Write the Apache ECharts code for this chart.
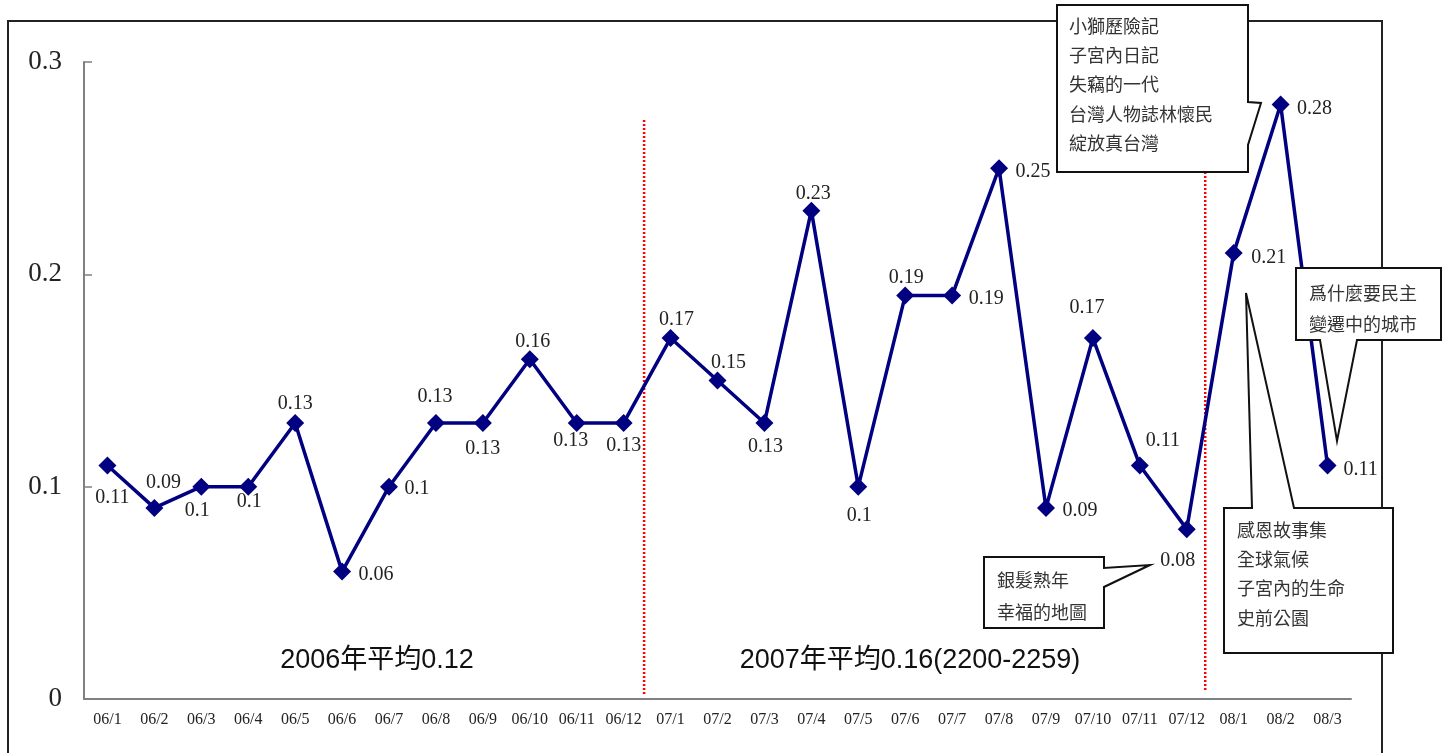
<!DOCTYPE html>
<html>
<head>
<meta charset="utf-8">
<script src="https://cdn.jsdelivr.net/npm/echarts@6/dist/echarts.min.js"></script>
<style>
html,body{margin:0;padding:0;background:#fff;}
#main{width:1448px;height:753px;}
</style>
</head>
<body>
<div id="main"></div>
<script>
const categories = ['06/1','06/2','06/3','06/4','06/5','06/6','06/7','06/8','06/9','06/10','06/11','06/12',
  '07/1','07/2','07/3','07/4','07/5','07/6','07/7','07/8','07/9','07/10','07/11','07/12',
  '08/1','08/2','08/3'];
const values = [0.11,0.09,0.1,0.1,0.13,0.06,0.1,0.13,0.13,0.16,0.13,0.13,
  0.17,0.15,0.13,0.23,0.1,0.19,0.19,0.25,0.09,0.17,0.11,0.08,
  0.21,0.28,0.11];
const yTicks = [0, 0.1, 0.2, 0.3];
const avgTexts = ['2006年平均0.12', '2007年平均0.16(2200-2259)'];
const callout1 = ['小獅歷險記','子宮內日記','失竊的一代','台灣人物誌林懷民','綻放真台灣'];
const callout2 = ['爲什麼要民主','變遷中的城市'];
const callout3 = ['感恩故事集','全球氣候','子宮內的生命','史前公園'];
const callout4 = ['銀髮熟年','幸福的地圖'];

// label placement (offset of label centre from the point), layout only
const labelOffsets = [[5,32],[9,-25],[-4,24],[1,15],[0,-19],[34,3],[28,2],[-1,-26],[0,26],[3,-18],[-6,18],[0,23],
  [6,-18],[11,-18],[1,24],[2,-17],[1,29],[1,-18],[34,3],[34,4],[34,3],[-6,-30],[23,-25],[-9,32],
  [35,5],[34,4],[33,4]];

const chart = echarts.init(document.getElementById('main'));
const numFont = '"Liberation Serif", "Times New Roman", serif';
const cjkFont = '"Noto Sans CJK TC", "Noto Sans CJK SC", sans-serif';

const seriesData = values.map((v, i) => ({
  value: v,
  label: { offset: labelOffsets[i] }
}));

chart.setOption({
  animation: false,
  grid: { left: 84, right: 97, top: 62, bottom: 54, containLabel: false },
  xAxis: {
    type: 'category',
    data: categories,
    boundaryGap: true,
    axisLine: { lineStyle: { color: '#808080', width: 2 } },
    axisTick: { inside: true, length: 7, alignWithLabel: false, lineStyle: { color: '#808080', width: 1.5 } },
    axisLabel: { fontFamily: numFont, fontSize: 16, color: '#222', margin: 13, interval: 0 },
    splitLine: { show: false }
  },
  yAxis: {
    type: 'value',
    min: yTicks[0],
    max: yTicks[yTicks.length - 1],
    interval: 0.1,
    axisLine: { show: true, lineStyle: { color: '#808080', width: 2 } },
    axisTick: { show: true, inside: true, length: 8, lineStyle: { color: '#808080', width: 1.5 } },
    axisLabel: { fontFamily: numFont, fontSize: 27, color: '#222', margin: 22,
      formatter: v => String(Math.round(v * 10) / 10) },
    splitLine: { show: false }
  },
  series: [{
    type: 'line',
    data: seriesData,
    symbol: 'diamond',
    symbolSize: 18,
    lineStyle: { color: '#000080', width: 3.5 },
    itemStyle: { color: '#000080' },
    z: 3,
    label: {
      show: true,
      position: 'inside',
      align: 'center',
      verticalAlign: 'middle',
      fontFamily: numFont,
      fontSize: 20,
      color: '#222',
      formatter: p => String(p.value)
    }
  }]
});

function calloutGroup(points, lines, tx, ty0, lh) {
  const children = [{
    type: 'polygon',
    shape: { points: points },
    style: { fill: '#fff', stroke: '#111', lineWidth: 2 },
    z: 10
  }];
  lines.forEach((t, k) => {
    children.push({
      type: 'text',
      x: tx, y: ty0 + k * lh,
      style: { text: t, fontFamily: cjkFont, fontSize: 18, fill: '#333', align: 'left', verticalAlign: 'middle' },
      z: 11
    });
  });
  return children;
}

const xA = chart.convertToPixel({ xAxisIndex: 0 }, categories[11]);
const xB = chart.convertToPixel({ xAxisIndex: 0 }, categories[12]);
const xC = chart.convertToPixel({ xAxisIndex: 0 }, categories[23]);
const xD = chart.convertToPixel({ xAxisIndex: 0 }, categories[24]);
const sep1 = (xA + xB) / 2 - 3;
const sep2 = (xC + xD) / 2 - 5;

const g = [];
g.push({ type: 'rect', shape: { x: 8, y: 21, width: 1374, height: 760 },
  style: { fill: 'none', stroke: '#222', lineWidth: 2 }, z: 0, silent: true });
g.push({ type: 'line', shape: { x1: sep1, y1: 120, x2: sep1, y2: 696 },
  style: { stroke: '#ff0000', lineWidth: 2.5, lineDash: [2, 2] }, z: 2 });
g.push({ type: 'line', shape: { x1: sep2, y1: 120, x2: sep2, y2: 692 },
  style: { stroke: '#ff0000', lineWidth: 2.5, lineDash: [2, 2] }, z: 2 });
g.push({ type: 'text', x: 377, y: 661,
  style: { text: avgTexts[0], fontFamily: '"Liberation Sans", Arial, "Noto Sans CJK TC", sans-serif', fontSize: 27, fill: '#111', align: 'center', verticalAlign: 'middle' }, z: 5 });
g.push({ type: 'text', x: 910, y: 661,
  style: { text: avgTexts[1], fontFamily: '"Liberation Sans", Arial, "Noto Sans CJK TC", sans-serif', fontSize: 27, fill: '#111', align: 'center', verticalAlign: 'middle' }, z: 5 });

calloutGroup([[1057,5],[1248,5],[1248,102],[1261,103],[1248,145],[1248,172],[1057,172]], callout1, 1069, 26, 29.3).forEach(c => g.push(c));
calloutGroup([[1296,268],[1441,268],[1441,340],[1357,340],[1337,441],[1320,340],[1296,340]], callout2, 1309, 293, 31).forEach(c => g.push(c));
calloutGroup([[1224,508],[1252,508],[1246,293],[1294,508],[1393,508],[1393,653],[1224,653]], callout3, 1237, 530, 29.3).forEach(c => g.push(c));
calloutGroup([[984,557],[1104,557],[1104,568],[1150,565],[1104,587],[1104,628],[984,628]], callout4, 997, 580, 32).forEach(c => g.push(c));

chart.setOption({ graphic: { elements: g } });
</script>
</body>
</html>
